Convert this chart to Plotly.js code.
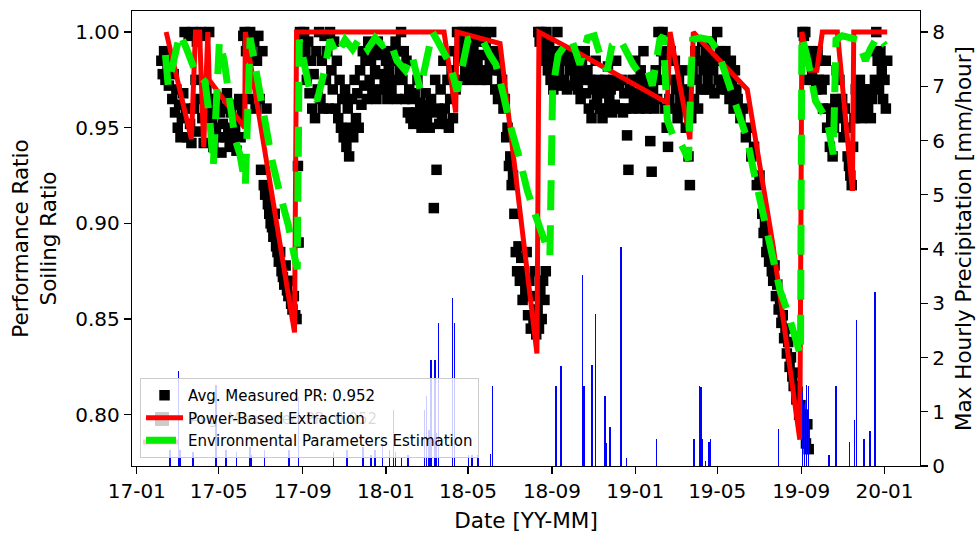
<!DOCTYPE html>
<html><head><meta charset="utf-8">
<script src="https://cdn.plot.ly/plotly-3.0.1.min.js"></script>
<style>body{margin:0;background:#fff}#chart{width:980px;height:533px}</style>
</head><body><div id="chart"></div>
<script>
// Day offsets are days since 2017-01-01

// Avg. measured performance ratio (daily)
const prDay = [36,38,40,42,45,47,50,52,54,56,58,60,62,64,66,68,70,72,74,76,78,80,82,84,86,88,90,92,94,96,98,100,102,104,106,108,110,112,114,116,118,120,122,124,126,128,130,132,134,136,138,140,142,144,146,148,150,152,154,156,158,160,162,164,166,168,170,172,174,176,178,180,182,184,186,188,190,192,194,196,198,200,202,204,206,208,210,212,214,216,218,220,222,224,226,228,230,232,234,236,237,
239,241,243,245,247,249,251,253,255,257,259,261,263,265,267,269,271,273,275,277,279,281,283,285,287,289,291,293,295,297,299,301,303,305,307,309,311,313,315,317,319,321,323,325,327,329,331,333,335,337,339,341,343,345,347,349,351,353,355,357,359,361,363,365,367,369,371,373,375,377,379,381,383,385,387,389,391,393,395,397,399,401,403,405,407,409,411,413,415,417,419,421,423,425,427,429,431,433,435,437,439,441,443,445,447,449,451,453,455,457,459,461,463,465,467,469,471,473,475,477,479,481,483,485,487,489,491,493,495,497,499,501,503,505,507,509,511,513,515,517,519,521,523,525,527,529,531,533,535,537,539,541,543,545,547,549,551,553,555,557,559,561,563,565,567,569,571,573,575,577,579,581,583,585,587,589,591,593,595,597,599,
588,590,592,594,596,598,600,602,604,606,608,610,612,614,616,618,620,622,624,626,628,630,632,634,636,638,640,642,644,646,648,650,652,654,656,658,660,662,664,666,668,670,672,674,676,678,680,682,684,686,688,690,692,694,696,698,700,702,704,706,708,710,712,714,716,718,720,722,724,726,728,730,732,734,736,738,740,742,744,746,748,750,752,754,756,758,760,762,764,766,768,770,772,774,776,778,780,782,784,786,788,790,792,794,796,798,800,802,804,806,808,810,812,814,816,818,820,822,824,826,828,830,832,834,836,838,840,842,844,846,848,850,852,854,856,858,860,862,864,866,868,870,872,874,876,878,880,884,888,892,896,900,904,908,912,916,918,920,922,924,926,928,930,932,934,936,938,940,942,944,946,948,950,952,954,956,958,960,962,964,966,968,970,972,974,976,978,980,982,984,
975,977,979,981,983,985,987,989,991,993,995,997,999,1001,1003,1005,1007,1009,1011,1013,1015,1017,1019,1021,1023,1025,1027,1029,1031,1033,1035,1037,1039,1041,1043,1045,1047,1049,1051,1053,1055,1057,1059,1061,1063,1065,1067,1069,1071,1073,1075,1077,1079,1081,1083,1085,1087,1089,1091,1093,1095,1097,1099];
const prVal = [0.985,0.978,0.99,0.975,0.982,0.972,0.985,0.965,0.978,0.958,0.97,0.95,0.962,0.945,0.955,0.968,1.0,0.96,0.945,0.998,0.952,0.942,1.0,0.96,0.975,0.995,0.948,0.965,1.0,0.955,0.942,0.998,0.97,0.96,1.0,0.965,0.955,0.94,0.96,0.95,0.965,0.945,0.958,0.937,0.952,0.96,0.945,0.968,0.95,0.94,0.958,0.945,0.962,0.95,0.938,0.955,0.965,0.945,0.96,0.998,1.0,0.99,0.995,0.965,1.0,0.99,0.975,0.995,0.96,0.985,0.998,0.965,0.928,0.99,0.92,0.915,0.96,0.91,0.905,0.9,0.898,0.893,0.905,0.888,0.885,0.88,0.885,0.875,0.872,0.868,0.878,0.865,0.862,0.87,0.858,0.855,0.862,0.852,0.85,0.93,0.89,
1.0,0.995,0.985,1.0,0.99,0.975,0.995,0.968,0.985,0.96,0.978,0.955,0.99,0.97,1.0,0.965,0.985,0.96,0.998,0.975,0.99,0.96,1.0,0.98,0.97,0.995,0.96,0.985,0.955,0.975,0.95,0.965,0.945,0.97,0.94,0.96,0.935,0.95,0.965,0.945,0.975,0.955,0.968,0.95,0.98,0.962,0.99,0.972,0.985,0.965,0.995,0.975,0.985,0.97,0.99,0.98,0.965,0.995,0.978,0.988,0.97,0.99,0.975,0.985,0.965,0.98,0.99,0.97,0.985,0.975,0.995,0.965,0.99,0.98,1.0,0.975,0.99,0.965,0.985,0.958,0.97,0.955,0.965,0.952,0.968,0.958,0.975,0.955,0.963,0.95,0.96,0.953,0.968,0.955,0.962,0.95,0.965,0.958,0.908,0.975,0.928,0.96,0.952,0.97,0.955,0.985,0.96,0.952,0.975,0.95,0.965,0.98,0.955,0.99,0.97,1.0,0.985,0.995,0.975,1.0,0.99,0.98,1.0,0.985,0.995,0.975,1.0,0.99,0.98,1.0,0.985,0.995,0.975,1.0,0.988,0.98,0.995,0.975,0.99,0.985,1.0,0.98,0.99,0.97,0.985,0.965,0.98,0.97,0.975,0.96,0.965,0.945,0.95,0.93,0.935,0.92,0.925,0.905,0.885,0.875,0.888,0.87,0.882,0.86,0.875,0.865,0.885,0.852,0.87,0.845,0.862,0.85,0.875,0.842,0.855,0.845,0.865,0.85,0.87,0.86,0.875,
1.0,0.995,1.0,0.99,0.998,0.985,1.0,0.98,0.995,0.975,0.99,0.97,0.985,0.975,1.0,0.98,0.99,0.972,0.985,0.975,0.99,0.97,0.985,0.98,0.99,0.972,0.985,0.975,0.99,0.97,0.98,0.965,0.985,0.975,0.99,0.968,0.98,0.96,0.975,0.955,0.97,0.962,0.985,0.965,0.975,0.96,0.97,0.955,0.968,0.975,0.96,0.982,0.965,0.97,0.958,0.975,0.962,0.985,0.96,0.972,0.96,0.975,0.958,0.968,0.96,0.946,0.928,0.97,0.96,0.975,0.965,0.985,0.968,0.975,0.96,0.98,0.965,0.99,0.97,0.96,0.975,0.965,0.943,0.927,0.97,0.96,0.98,0.965,1.0,0.975,0.99,1.0,0.985,0.96,0.95,0.94,0.965,0.99,0.975,0.96,0.985,0.97,0.955,0.975,0.965,0.98,0.96,0.97,0.95,0.965,0.935,0.92,0.955,0.98,0.965,0.99,0.975,0.96,0.985,0.97,0.995,0.98,0.97,0.99,0.975,0.985,0.97,0.995,0.98,0.968,0.985,1.0,0.975,0.99,0.97,0.985,0.975,0.99,0.97,0.98,0.965,0.985,0.975,0.96,0.98,0.97,0.965,0.955,0.96,0.945,0.95,0.935,0.94,0.92,0.925,0.905,0.895,0.9,0.885,0.89,0.88,0.885,0.875,0.87,0.878,0.862,0.868,0.855,0.86,0.848,0.852,0.84,0.845,0.832,0.838,0.825,0.83,0.82,0.815,0.822,0.808,0.812,0.8,0.805,0.795,0.8,0.79,0.785,0.795,0.782,
1.0,0.998,1.0,0.99,0.985,0.975,0.99,0.98,0.975,0.985,0.97,0.99,0.975,0.985,0.97,0.96,0.975,0.985,0.95,0.96,0.94,0.955,0.935,0.95,0.965,0.98,0.96,0.975,0.955,0.965,0.945,0.96,0.95,0.935,0.93,0.925,0.92,0.94,0.955,0.97,0.96,0.965,0.975,0.955,0.96,0.97,0.958,0.965,0.96,0.97,0.955,0.965,0.99,0.975,1.0,0.985,0.97,0.99,0.98,0.965,0.975,0.96,0.985];

// Power-based extraction (soiling ratio)
const pbDay = [43,80,86,92,98,104,106,158,159,231,234,450,467,469,532,586,589,652,777,781,810,815,830,894,932,971,974,986,996,1004,1026,1048,1050,1099];
const pbVal = [1.0,0.944,1.0,1.0,0.94,1.0,0.975,0.95,1.0,0.843,1.0,1.0,0.958,1.0,0.994,0.832,1.0,0.988,0.963,1.0,0.944,1.0,0.994,0.97,0.888,0.787,1.0,0.98,0.98,1.0,1.0,0.917,1.0,1.0];

// Environmental parameters estimation (soiling ratio)
const envDay = [42,46,56,63,71,85,100,107,112,116,121,128,134,144,151,159,166,176,186,198,210,222,229,235,238,253,264,275,283,293,305,316,327,338,349,360,371,381,393,403,415,424,433,441,452,459,469,477,485,496,506,517,526,537,547,559,572,584,594,605,609,617,627,637,649,660,670,681,689,696,708,718,727,737,748,755,762,766,771,777,785,793,802,808,811,814,825,839,850,862,873,884,894,903,913,923,932,942,952,961,972,974,983,994,1004,1011,1020,1024,1033,1045,1056,1067,1074,1085,1096];
const envVal = [0.988,0.972,0.988,0.999,0.993,0.98,0.974,0.954,0.93,0.964,0.995,0.985,0.967,0.944,0.936,0.92,0.997,0.977,0.957,0.933,0.915,0.899,0.886,0.876,0.996,0.97,0.964,0.98,0.996,0.988,0.996,0.991,0.997,0.991,0.997,0.993,0.995,0.985,0.98,0.988,0.97,0.985,1.0,0.995,0.988,0.983,0.969,0.985,0.996,0.997,0.996,0.988,0.983,0.967,0.951,0.936,0.917,0.904,0.894,0.883,0.97,0.988,0.993,0.996,0.983,0.997,0.998,0.985,0.98,0.993,0.996,0.988,0.983,0.978,0.98,0.972,0.985,0.996,0.998,0.954,0.946,0.944,0.938,0.933,0.97,0.996,0.997,0.996,0.991,0.978,0.967,0.957,0.944,0.928,0.912,0.894,0.878,0.865,0.855,0.844,0.831,0.998,0.985,0.964,0.957,0.954,0.936,0.996,0.998,0.997,0.996,0.985,0.991,0.998,0.993];

// Max hourly precipitation [mm/hour]
const rainDay = [49,61,63,82,116,131,146,166,168,187,223,237,288,308,331,343,349,360,370,376,379,388,397,421,424,428,431,437,439,442,462,465,486,491,500,518,521,614,621,653,655,667,672,686,688,693,709,717,761,816,824,826,828,833,838,840,940,975,978,981,984,1014,1024,1044,1051,1054,1065,1074,1081];
const rainVal = [0.3,1.75,0.3,0.25,1.49,0.3,0.25,0.35,0.2,0.3,0.3,1.27,0.25,0.3,0.35,0.2,0.3,0.4,0.3,1.03,0.25,0.15,0.2,1.03,1.29,0.66,1.96,1.96,0.6,2.63,3.1,2.63,0.2,0.2,0.2,0.23,1.48,1.48,1.84,3.52,1.48,1.87,2.81,1.29,0.42,0.72,4.03,0.14,0.49,0.49,1.48,1.46,0.49,0.1,0.44,0.49,0.69,1.37,1.15,1.5,1.48,0.21,1.48,0.44,0.84,2.69,0.49,0.64,3.21];

// Tick positions and legend labels
const xTicks = ['2017-01-01','2017-05-01','2017-09-01','2018-01-01','2018-05-01','2018-09-01','2019-01-01','2019-05-01','2019-09-01','2020-01-01'];
const prTicks = [0.80,0.85,0.90,0.95,1.00];
const rainTicks = [0,1,2,3,4,5,6,7,8];
const prLabel = 'Avg. Measured PR: 0.952';

const DAY = 86400000;
const t0 = Date.UTC(2017,0,1);
const toDate = d => new Date(t0 + d*DAY).toISOString().slice(0,10);

const FONT = 'DejaVu Sans, sans-serif';
const traces = [
  {x: prDay.map(toDate), y: prVal, type:'scatter', mode:'markers', name: prLabel,
   marker:{symbol:'square', size:10.5, color:'#000'}},
  {x: pbDay.map(toDate), y: pbVal, type:'scatter', mode:'lines', name:'Power-Based Extraction',
   line:{color:'#ff0000', width:5}},
  {x: envDay.map(toDate), y: envVal, type:'scatter', mode:'lines', name:'Environmental Parameters Estimation',
   line:{color:'#00ee00', width:7, dash:'30px,15px'}},
  {x: rainDay.map(toDate), y: rainVal, type:'bar', yaxis:'y2', name:'Precipitation', showlegend:false,
   width: 2.2*DAY, marker:{color:'#0000ff', line:{width:0}}}
];

const axisCommon = {ticks:'outside', ticklen:7, tickwidth:1.3, tickcolor:'#000',
  showline:true, linecolor:'#000', linewidth:1.3, showgrid:false, zeroline:false, tickfont:{size:20}};

const layout = {
  width:980, height:533,
  margin:{l:132, r:60, t:11, b:67},
  paper_bgcolor:'#fff', plot_bgcolor:'#fff',
  font:{family:FONT, color:'#000', size:20},
  showlegend:true,
  bargap:0,
  xaxis:Object.assign({}, axisCommon, {type:'date', range:['2016-12-25','2020-02-22'], tickvals:xTicks,
    tickformat:'%y-%m', mirror:true, title:{text:'Date [YY-MM]', font:{size:21.5}, standoff:10}}),
  yaxis:Object.assign({}, axisCommon, {range:[0.7732,1.011], tickvals:prTicks, tickformat:'.2f', mirror:true,
    title:{text:'Performance Ratio<br>Soiling Ratio', font:{size:21.5}, standoff:12}}),
  yaxis2:Object.assign({}, axisCommon, {overlaying:'y', side:'right', range:[0,8.387], tickvals:rainTicks,
    title:{text:'Max Hourly Precipitation [mm/hour]', font:{size:21.5}, standoff:12}}),
  legend:{x:0.0102, y:0.0176, xanchor:'left', yanchor:'bottom', bgcolor:'rgba(255,255,255,0.8)',
    bordercolor:'#cccccc', borderwidth:1, font:{size:15, family:FONT, color:'#000'}, tracegroupgap:0, itemwidth:37},
  // faint second legend showing through the first one
  shapes:[
    {type:'rect', xref:'paper', yref:'paper', x0:0.0292, x1:0.047, y0:0.0879, y1:0.1187, fillcolor:'#000', line:{width:0}, layer:'above'},
    {type:'line', xref:'paper', yref:'paper', x0:0.014, x1:0.0584, y0:0.0527, y1:0.0527, line:{color:'#ff0000', width:5}, layer:'above'}
  ],
  annotations:[
    {xref:'paper', yref:'paper', x:0.0711, y:0.1033, xanchor:'left', yanchor:'middle', showarrow:false,
     text: prLabel, font:{size:15, color:'rgba(0,0,0,0.16)'}}
  ]
};

Plotly.newPlot('chart', traces, layout, {displayModeBar:false, staticPlot:true});
</script>
</body></html>
